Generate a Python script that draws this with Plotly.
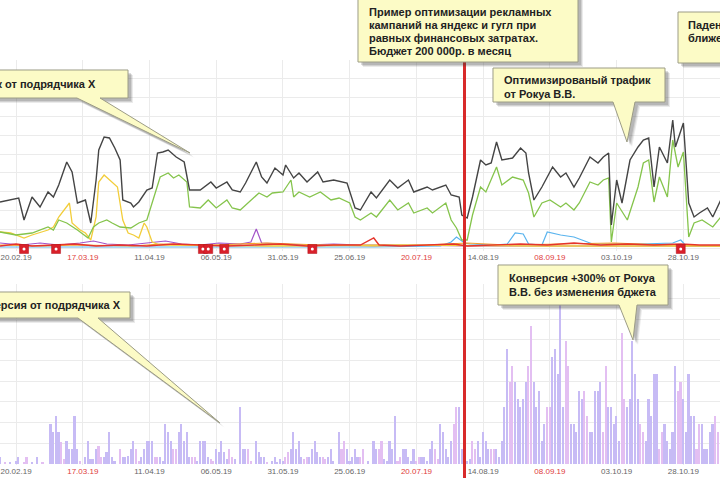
import pandas as pd
import plotly.graph_objects as go

START = pd.Timestamp("2019-02-14")
END = pd.Timestamp("2019-11-10 17:00")

# ---------------- data ----------------
tick_labels = ["20.02.19", "17.03.19", "11.04.19", "06.05.19", "31.05.19", "25.06.19",
               "20.07.19", "14.08.19", "08.09.19", "03.10.19", "28.10.19"]

# daily conversions (bars), day 0 = 14.02.19
conv = [7, 0, 2, 0, 2, 0, 3, 7, 0, 2, 7, 0, 2, 0, 7, 0, 2, 0, 0,
        40, 32, 48, 32, 22, 5, 23, 15, 15, 48, 15,
        3, 0, 7, 23, 5, 5, 15, 18, 7, 7,
        12, 32, 7, 3, 0, 15, 7, 7, 8, 15,
        23, 15, 3, 7, 15, 23, 23, 23, 7, 7,
        7, 3, 40, 32, 23, 15, 15, 32, 40, 23,
        32, 7, 7, 7, 3, 23, 23, 23, 7, 5,
        3, 15, 12, 23, 12, 5, 15, 7, 5, 0,
        57, 15, 15, 15, 3, 0, 23, 12, 7, 7,
        2, 0, 3, 7, 2, 5, 3, 7, 12, 15,
        32, 15, 23, 7, 5, 7, 7, 15, 23, 12,
        7, 7, 5, 7, 15, 3, 0, 32, 15, 23,
        15, 3, 7, 15, 7,
        7, 15, 0, 3, 0, 23, 15, 15, 23, 5,
        3, 23, 15, 48, 3, 7, 15, 15, 7, 3,
        15, 3, 7, 7, 7, 3, 15, 23, 15, 5,
        40, 32, 15, 7, 23, 40, 57, 57, 15, 7,
        3, 5, 23, 15, 23, 7, 32, 23, 15, 15,
        15, 15, 7, 23, 57, 115, 82, 98, 82, 65,
        57, 65, 82, 98, 138, 82, 57, 73, 23, 40,
        57, 57, 107, 115, 90, 172, 57, 123, 98, 40,
        40, 32, 73, 65, 73, 48, 32, 32, 73, 73,
        82, 32, 98, 57, 57, 40, 48, 23, 131, 65,
        57, 65, 123, 90, 65, 40, 32, 23, 65, 48,
        90, 90, 15, 32, 40, 23, 15, 32, 98, 73,
        82, 65, 32, 90, 48, 48, 15, 40, 40, 15,
        15, 32, 40, 48, 32]

# total visits (black)
black_day = [0, 4, 7, 9, 11, 12, 15, 18, 20, 22, 25, 27, 29, 32, 34, 36, 37, 39, 41, 43, 45, 46,
             49, 50, 52, 55, 57, 59, 61, 63, 66, 69, 71, 75, 79, 81, 85, 87, 90, 92, 96, 98, 100,
             103, 106, 107, 110, 112, 115, 119, 121, 125, 130, 133, 135, 139, 141, 146, 149, 153,
             155, 160, 162, 167, 169, 172, 173, 175, 177, 180, 182, 184, 186, 188, 192, 195, 197,
             198, 200, 203, 207, 210, 212, 215, 217, 221, 224, 226, 228, 229, 231, 233, 236, 239,
             241, 243, 245, 247, 250, 252, 253, 256, 258, 260, 262, 265, 267, 270]
black_val = [46, 48, 50, 28, 45, 51, 41, 56, 51, 63, 86, 76, 45, 48, 25, 68, 98, 111, 110, 100, 88, 48,
             45, 41, 46, 58, 60, 95, 96, 98, 91, 86, 58, 58, 66, 60, 66, 58, 56, 65, 86, 71, 65,
             80, 73, 83, 70, 75, 66, 76, 66, 68, 65, 40, 38, 56, 50, 68, 60, 68,
             56, 61, 58, 63, 53, 51, 33, 30, 51, 88, 83, 85, 106, 88, 90, 100, 95,
             75, 48, 61, 81, 71, 75, 61, 70, 91, 85, 91, 95, 23, 68, 45, 88, 101,
             108, 110, 61, 101, 85, 128, 101, 125, 45, 31, 35, 40, 31, 48]

# search traffic (green)
green_day = [0, 6, 12, 18, 20, 22, 25, 29, 33, 35, 37, 40, 42, 45, 49, 52, 55, 57, 60, 63, 65, 67,
             70, 71, 75, 78, 81, 85, 87, 90, 94, 97, 100, 102, 106, 109, 110, 112, 116, 120, 124,
             127, 131, 133, 135, 139, 141, 146, 149, 153, 155, 160, 162, 167, 169, 171, 173, 175,
             177, 180, 182, 186, 188, 192, 196, 198, 200, 203, 206, 210, 212, 215, 217, 221, 224,
             226, 228, 229, 231, 235, 239, 241, 243, 245, 247, 250, 252, 254, 256, 258, 260, 263,
             267, 270]
green_val = [16, 13, 15, 21, 18, 28, 25, 18, 10, 21, 25, 28, 25, 21, 20, 25, 28, 45, 71, 75, 70, 73,
             66, 41, 40, 48, 40, 48, 40, 38, 48, 55, 51, 55, 56, 68, 51, 56, 51, 56, 48,
             50, 45, 31, 28, 35, 31, 48, 38, 45, 35, 40, 35, 45, 28, 20, 8, 8,
             33, 61, 56, 81, 63, 71, 68, 55, 31, 45, 48, 41, 45, 38, 45, 66, 63,
             68, 70, 6, 45, 28, 61, 85, 88, 46, 71, 51, 108, 81, 96, 11, 25, 28,
             21, 31]

# contractor X traffic (yellow)
yellow_day = [0, 4, 9, 12, 18, 20, 22, 24, 26, 27, 30, 32, 34, 36, 37, 39, 41, 44, 46, 48, 50, 52,
              54, 55, 57, 60, 100, 150, 200, 270]
yellow_val = [16, 15, 10, 13, 18, 21, 31, 38, 45, 25, 18, 15, 8, 31, 66, 73, 68, 61, 28, 15, 13, 10,
              25, 21, 6, 3, 2, 3, 2, 2]

purple_day = [0, 8, 15, 22, 30, 35, 40, 48, 55, 62, 68, 75, 82, 90, 94, 96, 98, 105, 115, 125, 135,
              150, 165, 175, 185, 200, 215, 230, 245, 260, 270]
purple_val = [5, 3, 5, 3, 5, 7, 4, 3, 5, 7, 4, 3, 5, 4, 6, 19, 5, 4, 3, 4, 3,
              3, 2, 2, 2, 2, 2, 2, 2, 2, 2]

orange_day = [0, 15, 30, 50, 60, 80, 100, 120, 140, 160, 175, 190, 210, 230, 250, 270]
orange_val = [3, 2, 3, 2, 4, 3, 5, 3, 2, 3, 5, 3, 4, 5, 3, 2]

red_day = [0, 6, 12, 20, 28, 36, 45, 55, 65, 75, 85, 95, 105, 115, 125, 135, 140, 142, 150, 160,
           170, 175, 185, 195, 205, 215, 225, 235, 245, 255, 262, 270]
red_val = [2, 4, 2, 3, 4, 2, 3, 2, 4, 3, 2, 3, 4, 2, 3, 3, 10, 3, 2, 3,
           4, 2, 3, 4, 3, 5, 3, 4, 3, 4, 3, 3]

blue_day = [0, 30, 60, 100, 140, 165, 169, 171, 174, 176, 185, 190, 193, 196, 198, 203, 205, 210,
            215, 218, 222, 240, 252, 255, 257, 270]
blue_val = [1, 1, 1, 1, 1, 2, 6, 11, 5, 4, 3, 4, 15, 14, 4, 3, 16, 13, 11, 8, 4, 4, 5, 8, 2, 2]

event_day = [9, 21, 76, 78, 84, 117, 255]
change_date = "2019-08-07"

# ---------------- helpers ----------------
def to_dates(days):
    return [START + pd.Timedelta(days=d) for d in days]

bar_dates = to_dates(range(len(conv)))
bar_colors = ["#e3bff2" if d.weekday() >= 5 else "#c7bbf5" for d in bar_dates]

tick_dates = [pd.to_datetime(t, format="%d.%m.%y") for t in tick_labels]
tick_text = [f'<span style="color:#e03c3c">{t}</span>' if d.weekday() >= 5 else t
             for t, d in zip(tick_labels, tick_dates)]

fig = go.Figure()

def line(days, vals, color, width):
    fig.add_trace(go.Scatter(x=to_dates(days), y=vals, mode="lines",
                             line=dict(color=color, width=width), xaxis="x", yaxis="y",
                             hoverinfo="skip"))

line(blue_day, blue_val, "#5ab4ee", 1.2)
line(purple_day, purple_val, "#a353c9", 1.2)
line(orange_day, orange_val, "#f4a02c", 1.2)
line(yellow_day, yellow_val, "#f2cd3a", 1.3)
line(green_day, green_val, "#85c44c", 1.3)
line(black_day, black_val, "#444444", 1.4)
line(red_day, red_val, "#e6352c", 1.4)

ev = to_dates(event_day)
fig.add_trace(go.Scatter(x=ev, y=[-1] * len(ev), mode="markers", cliponaxis=False,
                         marker=dict(symbol="square", size=9, color="#d9202a",
                                     line=dict(color="#b01018", width=0.5)),
                         xaxis="x", yaxis="y", hoverinfo="skip"))
fig.add_trace(go.Scatter(x=ev, y=[-1] * len(ev), mode="markers", cliponaxis=False,
                         marker=dict(symbol="circle", size=3, color="#ffffff"),
                         xaxis="x", yaxis="y", hoverinfo="skip"))

fig.add_trace(go.Bar(x=bar_dates, y=conv, marker=dict(color=bar_colors, line=dict(width=0)),
                     width=0.6 * 86400000, xaxis="x2", yaxis="y2", hoverinfo="skip"))

W, H = 720, 480
def P(x, y):
    return f"{x / W:.5f},{1 - y / H:.5f}"

def callout(x0, y0, x1, y1, wedge=None):
    pts = [(x0, y0), (x1, y0), (x1, y1)]
    if wedge:
        b0, b1, tx, ty = wedge
        pts += [(b1, y1), (tx, ty), (b0, y1)]
    pts += [(x0, y1)]
    def path(dx, dy):
        return "M" + " L".join(P(x + dx, y + dy) for x, y in pts) + " Z"
    for dx, op in ((5, 0.10), (4, 0.14), (3, 0.18)):
        fig.add_shape(type="path", path=path(dx, dx), xref="paper", yref="paper",
                      fillcolor=f"rgba(60,60,60,{op})", line=dict(width=0), layer="above")
    fig.add_shape(type="path", path=path(0, 0), xref="paper", yref="paper",
                  fillcolor="#fcfbc6", line=dict(color="#9c9c86", width=1), layer="above")

def text(x, y, s):
    fig.add_annotation(x=x / W, y=1 - y / H, xref="paper", yref="paper", text=f"<b>{s}</b>",
                       showarrow=False, xanchor="left", yanchor="middle",
                       font=dict(family="Liberation Sans, Arial, sans-serif", size=11, color="#222222"))

# red change line
fig.add_shape(type="line", x0=change_date, x1=change_date, xref="x", yref="paper",
              y0=0.004, y1=1.0, line=dict(color="#d82a2a", width=3), layer="above")

callout(-46, 70, 128, 98, (77, 100, 190, 153))
text(-41, 84, "Трафик от подрядчика Х")

callout(358, -5, 578, 62)
text(367, 12, "Пример оптимизации рекламных")
text(367, 25, "кампаний на яндекс и гугл при")
text(367, 38, "равных финансовых затратах.")
text(367, 51, "Бюджет 200 000р. в месяц")

callout(493, 68, 665, 102, (613, 635, 627, 142))
text(502, 80, "Оптимизированый трафик")
text(502, 94, "от Рокуа В.В.")

callout(678, 12, 760, 63)
text(686, 25, "Падение трафика")
text(686, 38, "ближе к концу")

callout(-40, 292, 130, 318, (78, 98, 220, 423))
text(-34, 305, "Конверсия от подрядчика Х")

callout(498, 265, 668, 305, (619, 637, 633, 340))
text(507, 278, "Конверсия +300% от Рокуа")
text(507, 292, "В.В. без изменения бджета")

xcommon = dict(type="date", range=[START, END], tickvals=tick_dates, ticktext=tick_text,
               showgrid=True, gridcolor="#ebebeb", gridwidth=1, zeroline=False, showline=False,
               ticks="", tickfont=dict(family="Liberation Sans, Arial, sans-serif", size=8,
                                       color="#666666"))

fig.update_layout(
    width=W, height=H, margin=dict(l=0, r=0, t=0, b=0),
    paper_bgcolor="white", plot_bgcolor="white", showlegend=False, bargap=0,
    xaxis=dict(**xcommon, anchor="y", domain=[0, 1]),
    yaxis=dict(domain=[1 - 251 / H, 1 - 60 / H], range=[-3, 188], dtick=18.8, tick0=0,
               showticklabels=False, gridcolor="#ebebeb", zeroline=False),
    xaxis2=dict(**xcommon, anchor="y2", domain=[0, 1]),
    yaxis2=dict(domain=[1 - 465 / H, 1 - 284 / H], range=[-1, 180], dtick=20.7, tick0=0,
                showticklabels=False, gridcolor="#ebebeb", zeroline=False),
)

fig.write_html("out.html", config={"displayModeBar": False},
               post_script="document.body.style.margin='0';document.body.style.overflow='hidden';")
